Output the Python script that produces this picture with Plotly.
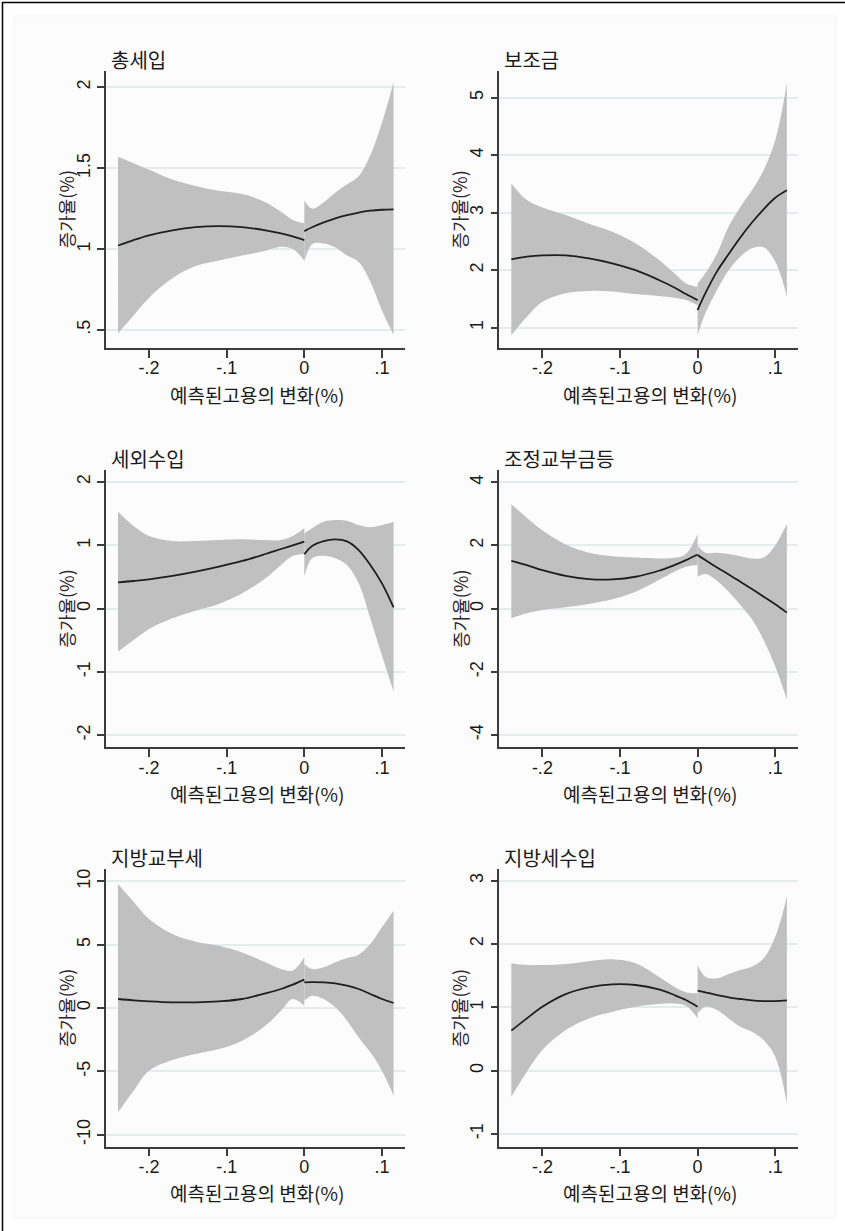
import plotly.graph_objects as go

# ---- x grid (predicted change in employment, %) on each side of the cutoff ----
x_left = [-0.24, -0.22, -0.20, -0.17, -0.14, -0.11, -0.08, -0.05, -0.03, -0.015, 0.0]
x_right = [0.0, 0.01, 0.025, 0.04, 0.055, 0.07, 0.085, 0.10, 0.115]

x_tickvals = [-0.2, -0.1, 0.0, 0.1]
x_ticktext = ["-.2", "-.1", "0", ".1"]

titles = ["총세입", "보조금", "세외수입", "조정교부금등", "지방교부세", "지방세수입"]
x_title = "예측된고용의 변화(%)"
y_title = "증가율(%)"

# ---- 총세입 ----
p1_fit_l = [1.022, 1.056, 1.085, 1.116, 1.136, 1.142, 1.136, 1.116, 1.097, 1.078, 1.056]
p1_hi_l = [1.57, 1.53, 1.49, 1.43, 1.39, 1.36, 1.34, 1.29, 1.23, 1.18, 1.16]
p1_lo_l = [0.48, 0.59, 0.70, 0.82, 0.895, 0.93, 0.96, 0.99, 1.015, 1.00, 0.93]
p1_fit_r = [1.111, 1.135, 1.165, 1.19, 1.21, 1.226, 1.237, 1.243, 1.245]
p1_hi_r = [1.30, 1.25, 1.29, 1.35, 1.40, 1.45, 1.58, 1.78, 2.03]
p1_lo_r = [0.92, 1.03, 1.035, 1.01, 0.96, 0.92, 0.80, 0.62, 0.47]

# ---- 보조금 ----
p2_fit_l = [2.19, 2.235, 2.258, 2.258, 2.206, 2.12, 2.0, 1.83, 1.70, 1.585, 1.48]
p2_hi_l = [3.51, 3.22, 3.09, 2.96, 2.81, 2.67, 2.47, 2.18, 1.945, 1.77, 1.71]
p2_lo_l = [0.87, 1.19, 1.45, 1.60, 1.64, 1.63, 1.585, 1.55, 1.52, 1.48, 1.39]
p2_fit_r = [1.307, 1.60, 1.98, 2.28, 2.57, 2.83, 3.06, 3.26, 3.39]
p2_hi_r = [1.77, 1.945, 2.29, 2.76, 3.10, 3.39, 3.74, 4.26, 5.25]
p2_lo_r = [0.87, 1.25, 1.655, 2.0, 2.235, 2.38, 2.40, 2.15, 1.54]

# ---- 세외수입 ----
p3_fit_l = [0.416, 0.437, 0.463, 0.516, 0.584, 0.663, 0.753, 0.863, 0.942, 1.0, 1.058]
p3_hi_l = [1.53, 1.305, 1.147, 1.068, 1.068, 1.084, 1.095, 1.084, 1.084, 1.147, 1.27]
p3_lo_l = [-0.68, -0.495, -0.32, -0.153, -0.032, 0.074, 0.242, 0.479, 0.69, 0.83, 0.863]
p3_fit_r = [0.858, 0.99, 1.068, 1.095, 1.063, 0.926, 0.69, 0.40, 0.02]
p3_hi_r = [1.19, 1.27, 1.374, 1.40, 1.39, 1.32, 1.284, 1.32, 1.374]
p3_lo_r = [0.505, 0.795, 0.837, 0.795, 0.69, 0.40, -0.15, -0.74, -1.31]

# ---- 조정교부금등 ----
p4_fit_l = [1.516, 1.38, 1.22, 1.04, 0.937, 0.926, 1.01, 1.20, 1.38, 1.537, 1.716]
p4_hi_l = [3.305, 2.88, 2.48, 2.03, 1.77, 1.66, 1.62, 1.59, 1.61, 1.73, 2.36]
p4_lo_l = [-0.305, -0.147, -0.042, 0.042, 0.147, 0.295, 0.537, 0.905, 1.168, 1.326, 1.38]
p4_fit_r = [1.695, 1.537, 1.305, 1.084, 0.853, 0.621, 0.379, 0.137, -0.126]
p4_hi_r = [2.01, 1.77, 1.77, 1.73, 1.66, 1.59, 1.62, 2.01, 2.69]
p4_lo_r = [1.01, 1.095, 0.884, 0.537, 0.116, -0.337, -0.99, -1.83, -2.88]

# ---- 지방교부세 ----
p5_fit_l = [0.71, 0.605, 0.526, 0.447, 0.447, 0.526, 0.71, 1.16, 1.50, 1.84, 2.237]
p5_hi_l = [9.79, 8.39, 7.03, 5.84, 5.24, 4.92, 4.39, 3.61, 3.08, 2.95, 4.0]
p5_lo_l = [-8.24, -6.53, -4.95, -4.1, -3.63, -3.24, -2.58, -1.39, -0.21, 0.71, 0.18]
p5_fit_r = [2.03, 2.05, 2.03, 1.95, 1.76, 1.50, 1.105, 0.71, 0.395]
p5_hi_r = [3.47, 3.08, 3.21, 3.61, 3.95, 4.21, 5.05, 6.37, 7.68]
p5_lo_r = [0.58, 0.97, 0.71, 0.05, -1.0, -2.32, -3.5, -4.95, -6.92]

# ---- 지방세수입 ----
p6_fit_l = [0.632, 0.826, 1.01, 1.21, 1.316, 1.363, 1.353, 1.284, 1.195, 1.116, 1.01]
p6_hi_l = [1.695, 1.668, 1.668, 1.684, 1.73, 1.758, 1.695, 1.484, 1.326, 1.237, 1.221]
p6_lo_l = [-0.41, -0.016, 0.326, 0.642, 0.826, 0.932, 1.01, 1.053, 1.063, 1.026, 0.826]
p6_fit_r = [1.263, 1.237, 1.195, 1.158, 1.132, 1.11, 1.10, 1.10, 1.11]
p6_hi_r = [1.668, 1.484, 1.458, 1.526, 1.59, 1.642, 1.774, 2.116, 2.747]
p6_lo_r = [0.905, 1.01, 0.958, 0.826, 0.695, 0.616, 0.484, 0.221, -0.516]

# ---- y-axis ticks per panel (labels use a plain hyphen for negatives) ----
y1_ticks = [0.5, 1, 1.5, 2]
y1_text = [".5", "1", "1.5", "2"]
y2_ticks = [1, 2, 3, 4, 5]
y2_text = ["1", "2", "3", "4", "5"]
y3_ticks = [-2, -1, 0, 1, 2]
y3_text = ["-2", "-1", "0", "1", "2"]
y4_ticks = [-4, -2, 0, 2, 4]
y4_text = ["-4", "-2", "0", "2", "4"]
y5_ticks = [-10, -5, 0, 5, 10]
y5_text = ["-10", "-5", "0", "5", "10"]
y6_ticks = [-1, 0, 1, 2, 3]
y6_text = ["-1", "0", "1", "2", "3"]

y_ranges = [[0.389, 2.102], [0.647, 5.47], [-2.19, 2.19],
            [-4.39, 4.39], [-10.95, 10.95], [-1.2, 3.18]]

series = [
    (p1_fit_l, p1_hi_l, p1_lo_l, p1_fit_r, p1_hi_r, p1_lo_r),
    (p2_fit_l, p2_hi_l, p2_lo_l, p2_fit_r, p2_hi_r, p2_lo_r),
    (p3_fit_l, p3_hi_l, p3_lo_l, p3_fit_r, p3_hi_r, p3_lo_r),
    (p4_fit_l, p4_hi_l, p4_lo_l, p4_fit_r, p4_hi_r, p4_lo_r),
    (p5_fit_l, p5_hi_l, p5_lo_l, p5_fit_r, p5_hi_r, p5_lo_r),
    (p6_fit_l, p6_hi_l, p6_lo_l, p6_fit_r, p6_hi_r, p6_lo_r),
]
y_tick_sets = [(y1_ticks, y1_text), (y2_ticks, y2_text), (y3_ticks, y3_text),
               (y4_ticks, y4_text), (y5_ticks, y5_text), (y6_ticks, y6_text)]

# ---- page geometry (pixels) ----
W, H = 845, 1231
col_px = [(106, 405), (499.3, 798.3)]
row_px = [(70.7, 348), (470, 747.3), (869.3, 1146.7)]

BAND = "#c0c0c0"
LINE = "#1e1e1e"
AXIS = "#3c3c3c"
GRID = "#e3edf0"
TEXT = "#1a1a1a"
KFONT = "Noto Sans CJK KR"
NFONT = "Liberation Sans, Arial, sans-serif"

fig = go.Figure()
layout = {}
annotations = []

for i, (title, data, (yt, ytxt), yr) in enumerate(zip(titles, series, y_tick_sets, y_ranges)):
    r, c = divmod(i, 2)
    n = i + 1
    xa = "x" if n == 1 else f"x{n}"
    ya = "y" if n == 1 else f"y{n}"
    fit_l, hi_l, lo_l, fit_r, hi_r, lo_r = data

    # confidence bands (upper edge, then lower edge filled to it) on each side
    for xs, hi, lo in ((x_left, hi_l, lo_l), (x_right, hi_r, lo_r)):
        fig.add_trace(go.Scatter(x=xs, y=hi, mode="lines", xaxis=xa, yaxis=ya,
                                 line=dict(width=0, shape="spline", color=BAND),
                                 showlegend=False, hoverinfo="skip"))
        fig.add_trace(go.Scatter(x=xs, y=lo, mode="lines", xaxis=xa, yaxis=ya,
                                 line=dict(width=0, shape="spline", color=BAND),
                                 fill="tonexty", fillcolor=BAND,
                                 showlegend=False, hoverinfo="skip"))
    # fitted lines
    for xs, fit in ((x_left, fit_l), (x_right, fit_r)):
        fig.add_trace(go.Scatter(x=xs, y=fit, mode="lines", xaxis=xa, yaxis=ya,
                                 line=dict(width=1.8, shape="spline", color=LINE),
                                 showlegend=False))

    x0, x1 = col_px[c]
    y0, y1 = row_px[r]
    xdom = [x0 / W, x1 / W]
    ydom = [1 - y1 / H, 1 - y0 / H]

    common = dict(showline=True, linecolor=AXIS, linewidth=1.5, ticks="outside",
                  tickcolor=AXIS, tickwidth=1.5, zeroline=False, mirror=False,
                  tickfont=dict(family=NFONT, size=18, color=TEXT))
    layout["xaxis" if n == 1 else f"xaxis{n}"] = dict(
        domain=xdom, anchor=ya, range=[-0.2555, 0.1297],
        tickmode="array", tickvals=x_tickvals, ticktext=x_ticktext,
        ticklen=8, ticklabelstandoff=-5, showgrid=False, **common)
    layout["yaxis" if n == 1 else f"yaxis{n}"] = dict(
        domain=ydom, anchor=xa, range=yr, tickmode="array",
        tickvals=yt, ticktext=ytxt, ticklen=7, tickangle=-90,
        showgrid=True, gridcolor=GRID, gridwidth=1.5, **common)

    # panel title
    annotations.append(dict(text=title, xref="paper", yref="paper",
                            x=(x0 + 3) / W, y=1 - 59 / H - (y0 - 70.7) / H,
                            xanchor="left", yanchor="middle", showarrow=False,
                            font=dict(family=KFONT, size=20, color=TEXT)))
    # y-axis title
    annotations.append(dict(text=y_title, xref="paper", yref="paper",
                            x=(x0 - 40) / W, y=1 - ((y0 + y1) / 2) / H,
                            xanchor="center", yanchor="middle", textangle=-90,
                            showarrow=False,
                            font=dict(family=KFONT, size=18, color="#2e2430")))
    # x-axis title
    annotations.append(dict(text=x_title, xref="paper", yref="paper",
                            x=((x0 + x1) / 2 + 1) / W, y=1 - (y1 + 46) / H,
                            xanchor="center", yanchor="middle", showarrow=False,
                            font=dict(family=KFONT, size=19, color=TEXT)))

shapes = [
    # faint inner graph region
    dict(type="rect", xref="paper", yref="paper", layer="below",
         x0=14 / W, x1=836 / W, y0=1 - 1218 / H, y1=1 - 16 / H,
         fillcolor="#fcfcfc", line=dict(color="#f3f3f3", width=1)),
    # outer frame (left and top edges)
    dict(type="line", xref="paper", yref="paper",
         x0=2.5 / W, x1=2.5 / W, y0=0, y1=1 - 2 / H,
         line=dict(color="#000000", width=1.5)),
    dict(type="line", xref="paper", yref="paper",
         x0=2 / W, x1=1, y0=1 - 2.5 / H, y1=1 - 2.5 / H,
         line=dict(color="#000000", width=1.5)),
]

fig.update_layout(
    width=W, height=H, margin=dict(l=0, r=0, t=0, b=0),
    paper_bgcolor="#ffffff", plot_bgcolor="rgba(0,0,0,0)",
    annotations=annotations, shapes=shapes, showlegend=False,
    **layout,
)

fig.write_html("out.html")
